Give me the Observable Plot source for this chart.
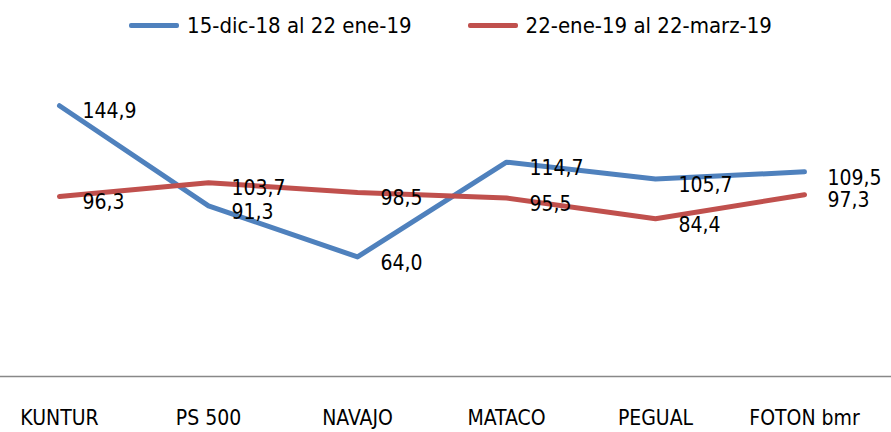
<!DOCTYPE html>
<html>
<head>
<meta charset="utf-8">
<script src="https://cdn.jsdelivr.net/npm/d3@7"></script>
<script src="https://cdn.jsdelivr.net/npm/@observablehq/plot@0.6"></script>
<style>
  body { margin: 0; background: #fff; font-family: "DejaVu Sans Condensed", sans-serif; }
  #legend { height: 50px; display: flex; align-items: center; justify-content: center; gap: 56px; font-size: 22px; color: #000; padding-left: 10px; }
  .item { display: flex; align-items: center; gap: 8px; }
  .sw { width: 50px; height: 5px; border-radius: 2px; }
</style>
</head>
<body>
<div id="legend"></div>
<div id="chart"></div>
<script>
const categories = ["KUNTUR", "PS 500", "NAVAJO", "MATACO", "PEGUAL", "FOTON bmr"];
const seriesNames = ["15-dic-18 al 22 ene-19", "22-ene-19 al 22-marz-19"];
const series1 = [144.9, 91.3, 64.0, 114.7, 105.7, 109.5];
const series2 = [96.3, 103.7, 98.5, 95.5, 84.4, 97.3];
const colors = ["#4F81BD", "#C0504D"];

const data = [];
[series1, series2].forEach((vals, si) => {
  vals.forEach((v, i) => data.push({cat: categories[i], value: v, series: seriesNames[si]}));
});

const legend = document.getElementById("legend");
seriesNames.forEach((n, i) => {
  const it = document.createElement("div");
  it.className = "item";
  it.innerHTML = `<span class="sw" style="background:${colors[i]}"></span><span>${n}</span>`;
  legend.appendChild(it);
});

const fmt = v => v.toFixed(1).replace(".", ",");

const chart = Plot.plot({
  width: 891,
  height: 382,
  marginLeft: 0,
  marginRight: 0,
  marginTop: 27,
  marginBottom: 56,
  style: {fontFamily: '"DejaVu Sans Condensed", sans-serif', fontSize: "20px", color: "#000"},
  x: {type: "point", domain: categories, padding: 0, insetLeft: 57, insetRight: 86, label: null},
  y: {domain: [0, 160], axis: null},
  color: {domain: seriesNames, range: colors},
  marks: [
    Plot.ruleY([0], {stroke: "#888", strokeWidth: 1.5}),
    Plot.axisX({tickSize: 0, tickPadding: 34, fontSize: 21, label: null}),
    Plot.line(data, {x: "cat", y: "value", z: "series", stroke: "series", strokeWidth: 5}),
    Plot.text(data, {x: "cat", y: "value", text: d => fmt(d.value), textAnchor: "start", dx: 23, dy: 6, fontSize: 21, fill: "#000"})
  ]
});
document.getElementById("chart").appendChild(chart);
</script>
</body>
</html>
